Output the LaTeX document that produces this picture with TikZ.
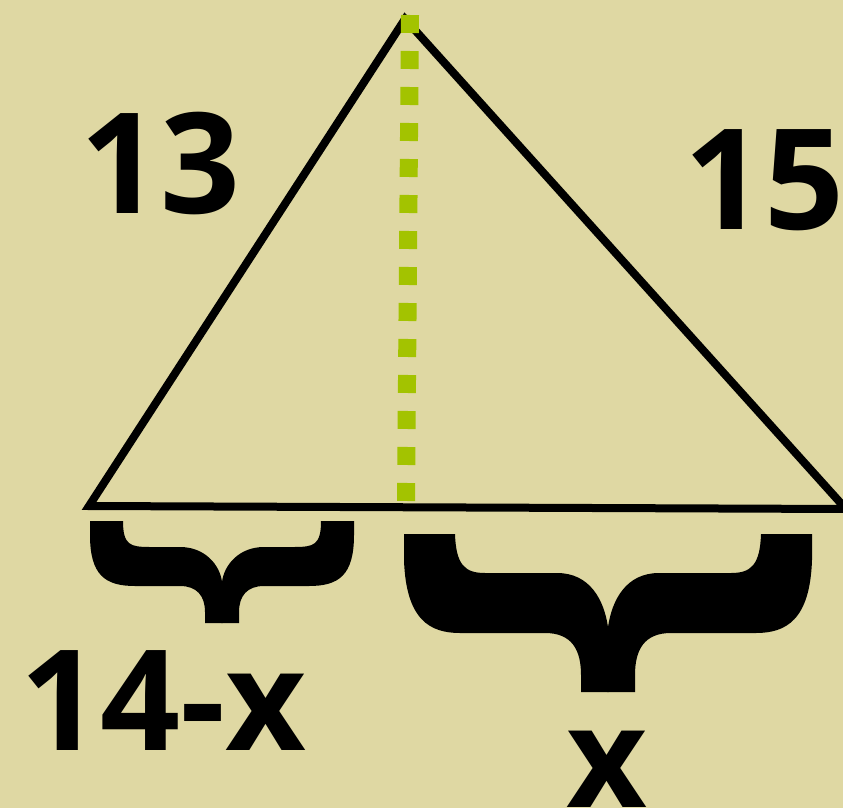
\documentclass[tikz,border=0pt]{standalone}
\usepackage{fontspec}
\setmainfont{Open Sans}
\definecolor{bgc}{HTML}{DFD8A3}
\definecolor{dotgreen}{HTML}{A3C300}
\begin{document}
\begin{tikzpicture}[x=1pt,y=-1pt,
  lbl/.style={anchor=base,inner sep=0pt,font=\fontsize{140}{140}\selectfont\bfseries},
  edge/.style={line width=8pt,line join=miter,black},
  height/.style={line width=18pt,dotgreen,dash pattern=on 18pt off 18pt}]
\fill[bgc] (0,0) rectangle (843,808);
\useasboundingbox (0,0) rectangle (843,808);
% triangle
\coordinate (A) at (405,19);
\coordinate (B) at (89,506);
\coordinate (C) at (846,509);
\coordinate (Ht) at (410,15);
\coordinate (Hb) at (406,501);
\draw[edge] (A) -- (B) -- (C) -- cycle;
\draw[height] (Ht) -- (Hb);
% braces
\foreach \s in {1,-1}{
\begin{scope}[shift={(222,0)},xscale=\s]
\fill[black] (-17,623) -- (-17,612) .. controls (-17,596) and (-25,586) .. (-42,586)
  -- (-87,586) .. controls (-117,586) and (-132,575) .. (-132,535) -- (-132,521)
  -- (-99,521) .. controls (-99,545) and (-92,547) .. (-72,547) -- (-42,547)
  .. controls (-17,547) and (-2,565) .. (0,582) -- (0.6,582) -- (0.6,623) -- cycle;
\end{scope}
\begin{scope}[shift={(608,0)},xscale=\s]
\fill[black] (-27,692) -- (-27,675) .. controls (-27,650) and (-36,633) .. (-63,633)
  -- (-148,633) .. controls (-178,633) and (-202,620) .. (-204,560) -- (-204,534)
  -- (-153,534) .. controls (-152,565) and (-143,573) .. (-123,573) -- (-51,573)
  .. controls (-18,573) and (-4,600) .. (0,627) -- (0.6,627) -- (0.6,692) -- cycle;
\end{scope}
}
% labels
\node[lbl] (l13) at (160.5,213) {13};
\node[lbl] (l15) at (764.5,229) {15};
\node[lbl] (l14x) at (163.5,750) {14-x};
\node[lbl] (lx) at (607,807) {x};
\end{tikzpicture}
\end{document}
